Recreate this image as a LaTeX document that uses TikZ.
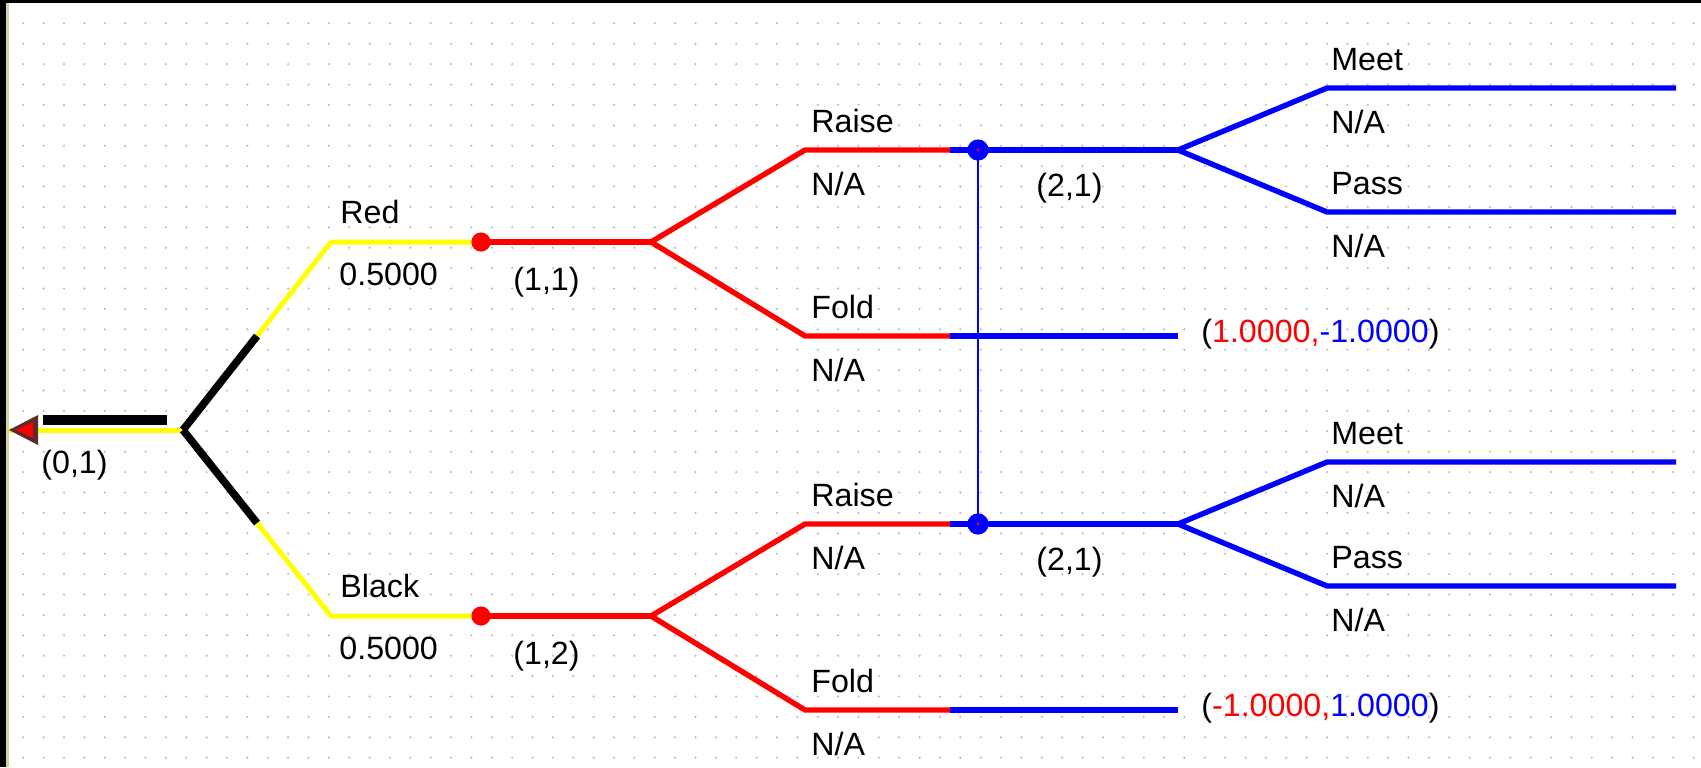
\documentclass[tikz,border=0pt]{standalone}
\usepackage{fontspec}
\setmainfont{Liberation Sans}
\usetikzlibrary{calc}
\definecolor{dotc}{HTML}{BDBDBD}
\definecolor{edgec}{HTML}{D2D2A8}
\definecolor{arrowc}{HTML}{5C2B2B}
\definecolor{pyel}{HTML}{FFFF00}
\definecolor{pred}{HTML}{FF0000}
\definecolor{pblue}{HTML}{0000FF}
\begin{document}
\begin{tikzpicture}[x=0.5pt,y=-0.5pt,
  lbl/.style={anchor=base west, inner sep=0pt, font=\fontsize{16.1}{19}\selectfont, text=black},
  yelline/.style={draw=pyel, line width=2.5pt},
  blkline/.style={draw=black, line width=3.8pt},
  redline/.style={draw=pred, line width=2.7pt, line join=round},
  blueline/.style={draw=pblue, line width=2.7pt, line join=round},
  thinblue/.style={draw=pblue, line width=1.3pt},
  reddot/.style={fill=pred, draw=none},
  bluedot/.style={fill=pblue, draw=none}]
\useasboundingbox (0,0) rectangle (1701,767);
\fill[white] (0,0) rectangle (1701,767);
% grid dots
\foreach \i in {0,...,82}{
  \foreach \j in {0,...,36}{
    \fill[dotc] (23.3+20.37*\i, 23.3+20.4*\j) circle (0.6pt);
  }
}
% window borders
\fill[black] (0,0) rectangle (1701,3);
\fill[black] (0,0) rectangle (6,767);
\fill[edgec] (6,3) rectangle (9,767);

% coordinates
\coordinate (tip) at (9,430);
\coordinate (root) at (183,430);
\coordinate (redS) at (331,242);
\coordinate (redD) at (481,242);
\coordinate (redF) at (651,242);
\coordinate (blackS) at (331,616);
\coordinate (blackD) at (481,616);
\coordinate (blackF) at (651,616);
\coordinate (uRa) at (805,150);
\coordinate (uRaC) at (950,150);
\coordinate (uD) at (978,150);
\coordinate (uF2) at (1178,150);
\coordinate (uMeet) at (1327,88);
\coordinate (uMeetE) at (1676,88);
\coordinate (uPass) at (1327,212);
\coordinate (uPassE) at (1676,212);
\coordinate (uFo) at (805,336);
\coordinate (uFoC) at (950,336);
\coordinate (uFoE) at (1178,336);
\coordinate (lRa) at (805,524);
\coordinate (lRaC) at (950,524);
\coordinate (lD) at (978,524);
\coordinate (lF2) at (1178,524);
\coordinate (lMeet) at (1327,462);
\coordinate (lMeetE) at (1676,462);
\coordinate (lPass) at (1327,586);
\coordinate (lPassE) at (1676,586);
\coordinate (lFo) at (805,710);
\coordinate (lFoC) at (950,710);
\coordinate (lFoE) at (1178,710);

% chance node (yellow)
\draw[yelline] (tip) -- (root);
\draw[yelline, line join=round] (root) -- (redS) -- (redD);
\draw[yelline, line join=round] (root) -- (blackS) -- (blackD);
\draw[blkline] (root) -- ($(root)!0.5!(redS)$);
\draw[blkline] (root) -- ($(root)!0.5!(blackS)$);
\fill[black] (43,415) rectangle (167,425);
% arrow at root
\fill[arrowc] (tip) -- (38,415) -- (38,445) -- cycle;
\fill[pred] (16,430) -- (33,422) -- (33,438) -- cycle;

% red decision branches
\draw[redline] (redD) -- (redF);
\draw[redline] (redF) -- (uRa) -- (uRaC);
\draw[redline] (redF) -- (uFo) -- (uFoC);
\draw[redline] (blackD) -- (blackF);
\draw[redline] (blackF) -- (lRa) -- (lRaC);
\draw[redline] (blackF) -- (lFo) -- (lFoC);

% blue branches
\draw[blueline] (uRaC) -- (uF2);
\draw[blueline] (uF2) -- (uMeet) -- (uMeetE);
\draw[blueline] (uF2) -- (uPass) -- (uPassE);
\draw[blueline] (uFoC) -- (uFoE);
\draw[blueline] (lRaC) -- (lF2);
\draw[blueline] (lF2) -- (lMeet) -- (lMeetE);
\draw[blueline] (lF2) -- (lPass) -- (lPassE);
\draw[blueline] (lFoC) -- (lFoE);
\draw[thinblue] (uD) -- (lD);

% dots
\fill[reddot] (redD) circle (4.8pt);
\fill[reddot] (blackD) circle (4.8pt);
\fill[bluedot] (uD) circle (5.3pt);
\fill[bluedot] (lD) circle (5.3pt);
\fill[pred] (uD) circle (0.8pt);
\fill[pred] (lD) circle (0.8pt);

% labels
\node[lbl] (n01) at (41,473) {(0,1)};
\node[lbl] (tRed) at (340,223) {Red};
\node[lbl] (pRed) at (339,285) {0.5000};
\node[lbl] (n11) at (513,290) {(1,1)};
\node[lbl] (tBlack) at (340,597) {Black};
\node[lbl] (pBlack) at (339,659) {0.5000};
\node[lbl] (n12) at (513,664) {(1,2)};

\node[lbl] (uRaT) at (811,132) {Raise};
\node[lbl] (uRaN) at (811,195) {N/A};
\node[lbl] (uFoT) at (811,318) {Fold};
\node[lbl] (uFoN) at (811,381) {N/A};
\node[lbl] (n21u) at (1036,196) {(2,1)};
\node[lbl] (uMeT) at (1331,70) {Meet};
\node[lbl] (uMeN) at (1331,133) {N/A};
\node[lbl] (uPaT) at (1331,194) {Pass};
\node[lbl] (uPaN) at (1331,257) {N/A};
\node[lbl] (uPay) at (1201,342) {(\textcolor{pred}{1.0000,}\textcolor{pblue}{-1.0000})};

\node[lbl] (lRaT) at (811,506) {Raise};
\node[lbl] (lRaN) at (811,569) {N/A};
\node[lbl] (lFoT) at (811,692) {Fold};
\node[lbl] (lFoN) at (811,755) {N/A};
\node[lbl] (n21l) at (1036,570) {(2,1)};
\node[lbl] (lMeT) at (1331,444) {Meet};
\node[lbl] (lMeN) at (1331,507) {N/A};
\node[lbl] (lPaT) at (1331,568) {Pass};
\node[lbl] (lPaN) at (1331,631) {N/A};
\node[lbl] (lPay) at (1201,716) {(\textcolor{pred}{-1.0000,}\textcolor{pblue}{1.0000})};
\end{tikzpicture}
\end{document}
